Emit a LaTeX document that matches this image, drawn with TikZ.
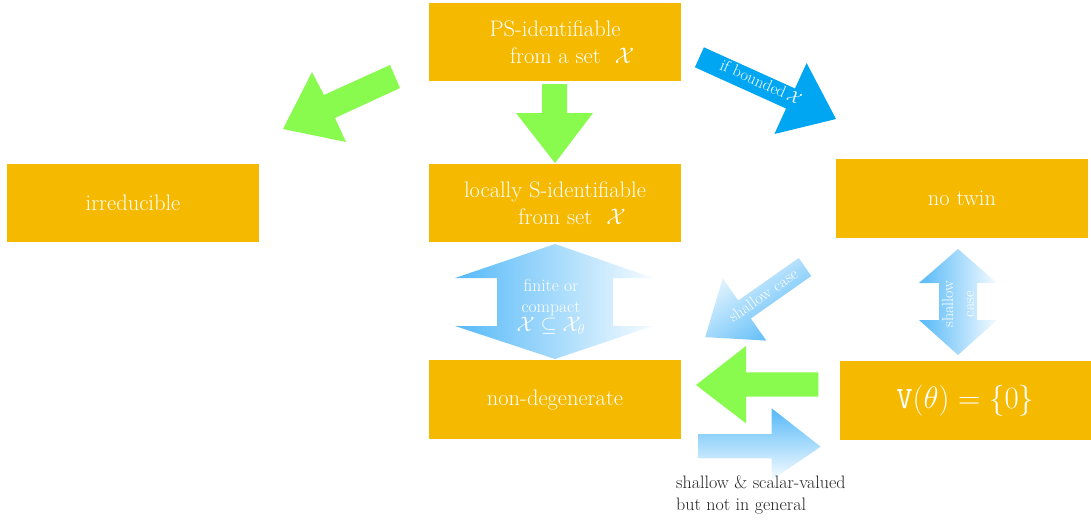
\RequirePackage{fix-cm}
\documentclass[tikz,border=0pt]{standalone}
\usepackage{fontspec}
\definecolor{boxorange}{RGB}{245,185,0}
\definecolor{arrgreen}{RGB}{137,250,78}
\definecolor{arrblue}{RGB}{0,166,242}
\definecolor{lightblue}{RGB}{85,185,248}
\definecolor{inktext}{RGB}{34,34,34}
\tikzset{
  box/.style={fill=boxorange, minimum width=252pt, minimum height=78pt, inner sep=0pt,
    text=white, font=\fontsize{22.5}{27}\selectfont, align=center},
  lbl/.style={text=white, inner sep=0pt, align=center},
  greenarrow/.style={fill=arrgreen},
}
\begin{document}
\begin{tikzpicture}[x=1pt,y=-1pt]
\useasboundingbox (0,0) rectangle (1091,520);
% boxes
\node[box] (ps) at (555,42) {PS-identifiable\\\hspace*{34pt}from a set\hspace{14pt}$\mathcal{X}$};
\node[box] (loc) at (555,203) {locally S-identifiable\\\hspace*{34pt}from set\hspace{14pt}$\mathcal{X}$};
\node[box] (irr) at (133,203) {irreducible};
\node[box, minimum height=79pt] (tw) at (962,198.5) {no twin};
\node[box, minimum width=251pt, minimum height=79pt, font=\fontsize{31}{36}\selectfont] (vz) at (965.5,400.5) {$\mathtt{V}(\theta)=\{0\}$};
\node[box, minimum height=79pt] (nd) at (555,399.5) {non-degenerate};
% green arrow to irreducible
\fill[greenarrow] (390,65) -- (324,95) -- (312,72) -- (283,129) -- (346,142) -- (335,118) -- (400,88) -- cycle;
% green arrow down
\fill[greenarrow] (542,84) -- (567,84) -- (567,113) -- (593,113) -- (555,163) -- (516,113) -- (542,113) -- cycle;
% blue arrow if bounded
\fill[arrblue] (703.9,47.3) -- (795.0,88.5) -- (806.6,63) -- (836,119) -- (774.4,134.0) -- (786.0,108.5) -- (694.9,67.3) -- cycle;
\node[lbl, rotate=-24.3, font=\fontsize{16.5}{19}\selectfont] (ifb) at (761,82) {if bounded\,$\mathcal{X}$};
% blue double arrow finite or compact
\shade[left color=lightblue, right color=lightblue!6] (555,244) -- (653,278) -- (613,278) -- (613,326) -- (653,326) -- (555,359) -- (455,326) -- (497,326) -- (497,278) -- (455,278) -- cycle;
\node[lbl, font=\fontsize{17.5}{21}\selectfont] (fin) at (551,307) {finite or\\compact\\[-2pt]{\fontsize{21}{22}\selectfont$\mathcal{X}\subseteq\mathcal{X}_\theta$}};
% diagonal shallow case arrow
\shade[top color=lightblue!8, bottom color=lightblue, shading angle=35] (798.7,258) -- (738.2,300.5) -- (722.7,278.4) -- (705.2,337.1) -- (766.3,340.6) -- (750.8,318.5) -- (811.3,276) -- cycle;
\node[lbl, rotate=35, font=\fontsize{16.5}{19}\selectfont] (sc1) at (763,295) {shallow case};
% right vertical double arrow
\shade[left color=lightblue, right color=lightblue!6] (958,249) -- (997,283) -- (977,283) -- (977,320) -- (997,320) -- (958,355) -- (919,320) -- (939,320) -- (939,283) -- (919,283) -- cycle;
\node[lbl, rotate=90, font=\fontsize{16}{21}\selectfont] (sc2) at (958,304) {shallow\\case};
% green left arrow
\fill[greenarrow] (818.3,372.3) -- (746,372.3) -- (746,346) -- (696,385) -- (746,423.3) -- (746,396.7) -- (818.3,396.7) -- cycle;
% blue right arrow
\shade[top color=lightblue, bottom color=lightblue!4] (698.3,434) -- (771.7,434) -- (771.7,408.3) -- (820.7,446.7) -- (771.7,480) -- (771.7,458.3) -- (698.3,458.3) -- cycle;
\node[anchor=north west, inner sep=0pt, align=left, text=inktext, font=\fontsize{18}{22}\selectfont] (cap) at (676,476) {shallow \& scalar-valued\\but not in general};
\end{tikzpicture}
\end{document}
